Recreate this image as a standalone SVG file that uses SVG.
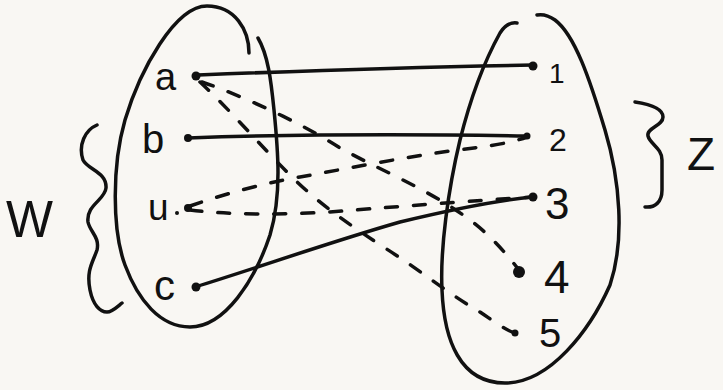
<svg xmlns="http://www.w3.org/2000/svg" width="723" height="390" viewBox="0 0 723 390">
<style>
.ln{fill:none;stroke:#111;stroke-width:3.5;stroke-linecap:round;stroke-linejoin:round}
.dash{stroke-dasharray:12 16}
.lbl{font-family:"Liberation Sans","DejaVu Sans",sans-serif;fill:#111}
.dot{fill:#111}
</style>
<rect width="723" height="390" fill="#f9f7f3"/>
<g id="set-left">
<path class="ln" d="M249,53 C249,30 235,6 207,6 C175,6 140,70 125,120 C112,165 112,230 125,265 C138,300 160,327 190,327 C225,327 255,280 270,235 C282,195 278,150 274,110 C271,80 268,55 258,38"/>
</g>
<g id="set-right">
<path class="ln" d="M517,23 C510,22 505,25 500,33 C485,60 470,100 460,140 C448,190 440,250 442,290 C444,340 460,383 505,383 C550,383 590,330 610,285 C625,240 620,180 605,130 C590,80 575,35 555,20 C548,15 542,14 537,15"/>
</g>
<g id="brace-W">
<path class="ln" d="M97,125 C85,130 78,145 83,160 C88,170 107,172 106,188 C105,200 86,205 88,222 C90,232 100,237 97,250 C93,262 86,270 90,290 C93,305 100,312 107,312 C112,312 117,307 122,303"/>
<text class="lbl" x="6" y="237" font-size="52" textLength="47" lengthAdjust="spacingAndGlyphs">W</text>
</g>
<g id="brace-Z">
<path class="ln" d="M635,102 C648,104 663,108 663,117 C663,126 646,128 648,136 C650,144 662,148 662,160 L662,190 C662,202 655,208 645,207"/>
<text class="lbl" x="687" y="170" font-size="46">Z</text>
</g>
<g id="connectors">
<path class="ln" d="M198,75 C300,71 420,67 533,65"/>
<path class="ln" d="M188,138 C300,134 420,134 527,136"/>
<path class="ln" d="M195,287 C260,267 330,242 400,222 C450,210 500,200 533,197"/>
<path class="ln dash" d="M200,82 C230,110 260,145 290,175 C320,205 350,225 385,248 C420,270 450,295 480,312 C495,322 505,330 515,333"/>
<path class="ln dash" d="M202,82 C240,95 300,122 340,148 C380,170 430,190 470,220 C490,235 505,252 519,270"/>
<path class="ln dash" d="M190,206 C230,192 270,182 300,177 C350,168 400,158 450,151 C480,147 505,145 527,137"/>
<path class="ln dash" d="M190,210 C230,215 280,215 330,212 C380,208 440,203 533,197"/>
</g>
<g id="node-a"><circle class="dot" cx="196" cy="76" r="4.5"/><text class="lbl" x="155" y="90" font-size="38">a</text></g>
<g id="node-b"><circle class="dot" cx="188" cy="138" r="4"/><text class="lbl" x="142" y="153" font-size="40">b</text></g>
<g id="node-u"><circle class="dot" cx="188" cy="208" r="4"/><circle class="dot" cx="177" cy="213" r="2"/><text class="lbl" x="148" y="220" font-size="37">u</text></g>
<g id="node-c"><circle class="dot" cx="196" cy="287" r="4.5"/><text class="lbl" x="154" y="300" font-size="42">c</text></g>
<g id="node-1"><circle class="dot" cx="533" cy="66" r="4.5"/><text class="lbl" x="549" y="83" font-size="28">1</text></g>
<g id="node-2"><circle class="dot" cx="527" cy="136" r="3.5"/><text class="lbl" x="549" y="151" font-size="32">2</text></g>
<g id="node-3"><circle class="dot" cx="533" cy="197" r="4.5"/><text class="lbl" x="545" y="219" font-size="44">3</text></g>
<g id="node-4"><circle class="dot" cx="519" cy="272" r="6"/><text class="lbl" x="544" y="293" font-size="46">4</text></g>
<g id="node-5"><circle class="dot" cx="515" cy="333" r="3.5"/><text class="lbl" x="539" y="347" font-size="40">5</text></g>
</svg>
